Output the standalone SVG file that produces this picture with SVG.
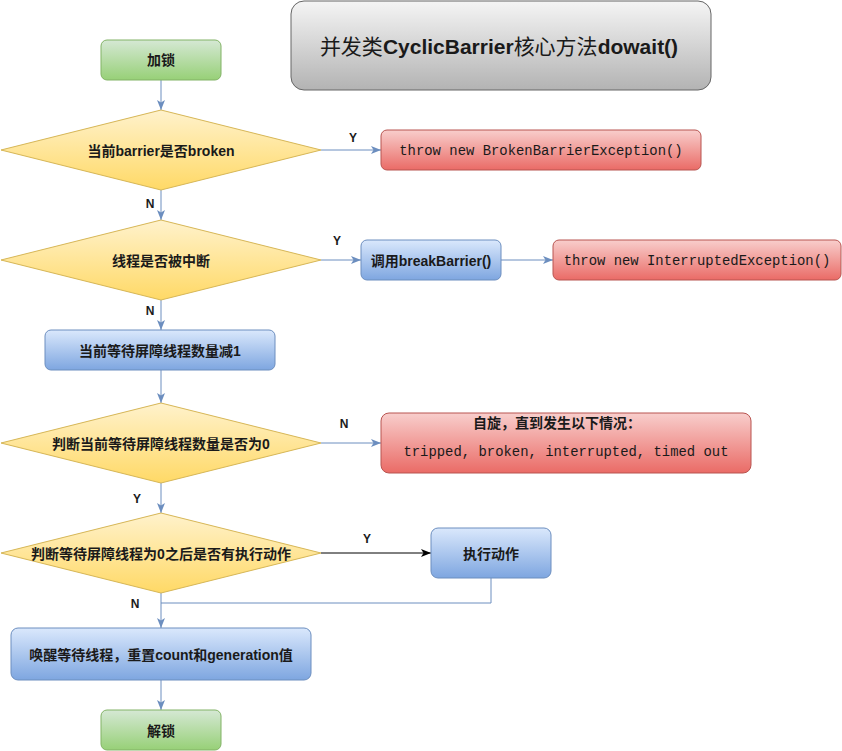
<svg xmlns="http://www.w3.org/2000/svg" width="842" height="751" viewBox="0 0 842 751">
<defs>
<linearGradient id="gGreen" x1="0" y1="0" x2="0" y2="1"><stop offset="0" stop-color="#d5e8d4"/><stop offset="1" stop-color="#97d077"/></linearGradient>
<linearGradient id="gYellow" x1="0" y1="0" x2="0" y2="1"><stop offset="0" stop-color="#fff2cc"/><stop offset="1" stop-color="#ffd966"/></linearGradient>
<linearGradient id="gBlue" x1="0" y1="0" x2="0" y2="1"><stop offset="0" stop-color="#dae8fc"/><stop offset="1" stop-color="#7ea6e0"/></linearGradient>
<linearGradient id="gRed" x1="0" y1="0" x2="0" y2="1"><stop offset="0" stop-color="#f8cecc"/><stop offset="1" stop-color="#ea6b66"/></linearGradient>
<linearGradient id="gGray" x1="0" y1="0" x2="0" y2="1"><stop offset="0" stop-color="#f5f5f5"/><stop offset="1" stop-color="#b3b3b3"/></linearGradient>
<marker id="arrB" viewBox="0 0 10 10" refX="10" refY="5" markerWidth="10" markerHeight="10" markerUnits="userSpaceOnUse" orient="auto"><path d="M0,1 L10,5 L0,9 L2.5,5 Z" fill="#6c8ebf"/></marker>
<marker id="arrK" viewBox="0 0 10 10" refX="10" refY="5" markerWidth="10" markerHeight="10" markerUnits="userSpaceOnUse" orient="auto"><path d="M0,1 L10,5 L0,9 L2.5,5 Z" fill="#000"/></marker>
</defs>
<style>
.green{fill:url(#gGreen);stroke:#82b366;stroke-width:1}
.yellow{fill:url(#gYellow);stroke:#d6b656;stroke-width:1}
.blue{fill:url(#gBlue);stroke:#6c8ebf;stroke-width:1}
.red{fill:url(#gRed);stroke:#b85450;stroke-width:1}
.gray{fill:url(#gGray);stroke:#666666;stroke-width:1}
.t{font-family:"Liberation Sans","Noto Sans CJK SC",sans-serif;font-size:14px;font-weight:bold;fill:#1a1a1a;text-anchor:middle;dominant-baseline:central}
.m{font-family:"Liberation Mono",monospace;font-size:13.9px;fill:#1a1a1a;text-anchor:middle;dominant-baseline:central}
.lbl{font-family:"Liberation Sans",sans-serif;font-size:12px;font-weight:bold;fill:#1a1a1a;text-anchor:middle;dominant-baseline:central}
.c{fill:none;stroke:#6c8ebf;stroke-width:1}
.ck{fill:none;stroke:#000;stroke-width:1}
</style>
<rect width="842" height="751" fill="#ffffff"/>
<g id="connectors">
<path class="c" d="M161,80 L161,110" marker-end="url(#arrB)"/>
<path class="c" d="M321,150 L381,150" marker-end="url(#arrB)"/>
<path class="c" d="M161,190 L161,220" marker-end="url(#arrB)"/>
<path class="c" d="M321,260 L361,260" marker-end="url(#arrB)"/>
<path class="c" d="M501,260 L553,260" marker-end="url(#arrB)"/>
<path class="c" d="M161,300 L161,330" marker-end="url(#arrB)"/>
<path class="c" d="M161,370 L161,403" marker-end="url(#arrB)"/>
<path class="c" d="M321,443 L381,443" marker-end="url(#arrB)"/>
<path class="c" d="M161,483 L161,513" marker-end="url(#arrB)"/>
<path class="ck" d="M321,553 L431,553" marker-end="url(#arrK)"/>
<path class="c" d="M491,578 L491,603 L161,603"/>
<path class="c" d="M161,593 L161,628" marker-end="url(#arrB)"/>
<path class="c" d="M161,680 L161,710" marker-end="url(#arrB)"/>
<text class="lbl" x="353" y="138">Y</text>
<text class="lbl" x="150" y="204">N</text>
<text class="lbl" x="337" y="241">Y</text>
<text class="lbl" x="150" y="311">N</text>
<text class="lbl" x="344" y="424">N</text>
<text class="lbl" x="137" y="499">Y</text>
<text class="lbl" x="367" y="539">Y</text>
<text class="lbl" x="135" y="604">N</text>
</g>
<g id="title">
<rect class="gray" x="291" y="1" width="420" height="89" rx="13"/>
<text class="t" x="499" y="46" style="font-size:21px;fill:#1a1a1a"><tspan font-weight="normal">并发类</tspan>CyclicBarrier<tspan font-weight="normal">核心方法</tspan>dowait()</text>
</g>
<g id="lock">
<rect class="green" x="101" y="40" width="120" height="40" rx="6"/>
<text class="t" x="161" y="60">加锁</text>
</g>
<g id="d1">
<polygon class="yellow" points="161,110 321,150 161,190 1,150"/>
<text class="t" x="161" y="151">当前barrier是否broken</text>
</g>
<g id="ex1">
<rect class="red" x="381" y="130" width="320" height="40" rx="6"/>
<text class="m" x="541" y="151">throw new BrokenBarrierException()</text>
</g>
<g id="d2">
<polygon class="yellow" points="161,220 321,260 161,300 1,260"/>
<text class="t" x="161" y="261">线程是否被中断</text>
</g>
<g id="breakBarrier">
<rect class="blue" x="361" y="240" width="140" height="40" rx="6"/>
<text class="t" x="431" y="261">调用breakBarrier()</text>
</g>
<g id="ex2">
<rect class="red" x="553" y="240" width="288" height="40" rx="6"/>
<text class="m" x="697" y="261">throw new InterruptedException()</text>
</g>
<g id="decr">
<rect class="blue" x="45" y="330" width="230" height="40" rx="6"/>
<text class="t" x="160" y="351">当前等待屏障线程数量减1</text>
</g>
<g id="d3">
<polygon class="yellow" points="161,403 321,443 161,483 1,443"/>
<text class="t" x="161" y="444">判断当前等待屏障线程数量是否为0</text>
</g>
<g id="spin">
<rect class="red" x="381" y="413" width="370" height="60" rx="8"/>
<text class="t" x="557" y="423">自旋，直到发生以下情况：</text>
<text class="m" x="566" y="452">tripped, broken, interrupted, timed out</text>
</g>
<g id="d4">
<polygon class="yellow" points="161,513 321,553 161,593 1,553"/>
<text class="t" x="161" y="554">判断等待屏障线程为0之后是否有执行动作</text>
</g>
<g id="action">
<rect class="blue" x="431" y="528" width="120" height="50" rx="7"/>
<text class="t" x="491" y="554">执行动作</text>
</g>
<g id="wake">
<rect class="blue" x="11" y="628" width="300" height="52" rx="7"/>
<text class="t" x="161" y="655">唤醒等待线程，重置count和generation值</text>
</g>
<g id="unlock">
<rect class="green" x="101" y="710" width="120" height="40" rx="6"/>
<text class="t" x="161" y="731">解锁</text>
</g>
</svg>
